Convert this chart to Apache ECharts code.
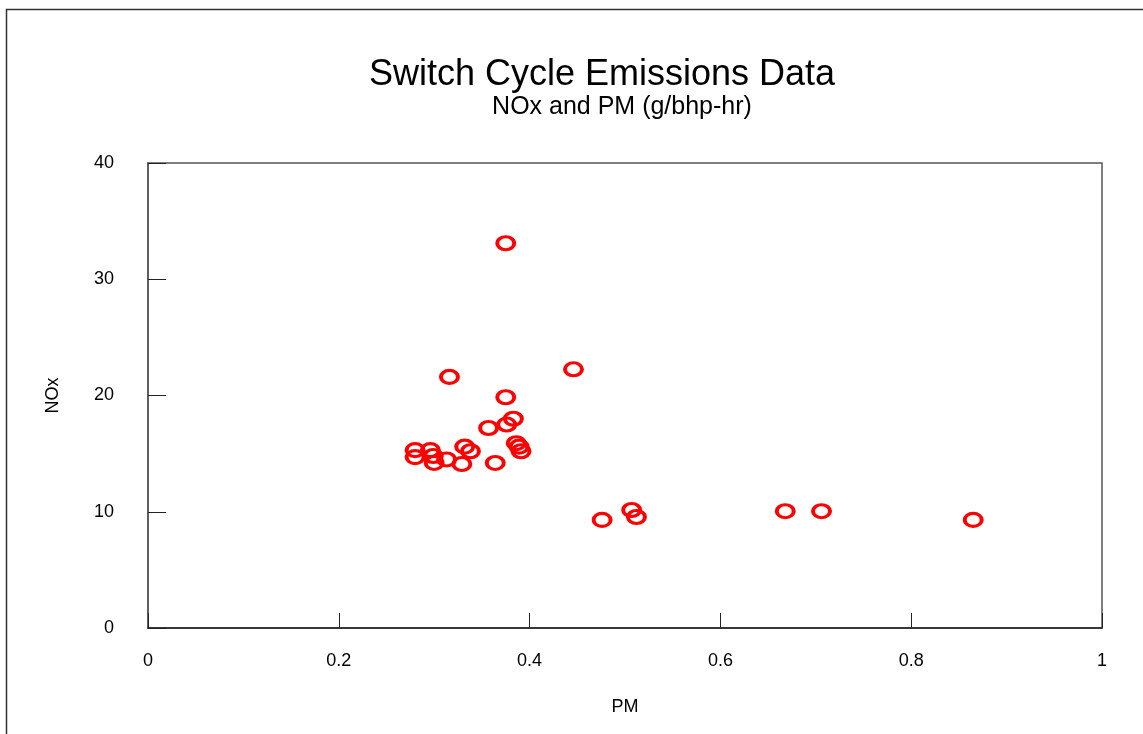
<!DOCTYPE html>
<html>
<head>
<meta charset="utf-8">
<script src="https://cdn.jsdelivr.net/npm/echarts@6/dist/echarts.min.js"></script>
<style>
    html,body {margin:0;padding:0;background:#fff;}
    #chart {width:1143px;height:734px;}
</style>
</head>
<body>
<div id="chart"></div>
<script>
    // PM (g/bhp-hr) vs NOx (g/bhp-hr)
    var pm  = [0.375, 0.446, 0.316, 0.375, 0.383, 0.376, 0.357, 0.386, 0.389, 0.391,
               0.332, 0.338, 0.280, 0.280, 0.296, 0.299, 0.300, 0.313, 0.329, 0.364,
               0.476, 0.507, 0.512, 0.668, 0.706, 0.865];
    var nox = [33.1, 22.25, 21.6, 19.85, 18.0, 17.5, 17.2, 15.9, 15.6, 15.2,
               15.6, 15.2, 15.3, 14.7, 15.3, 14.8, 14.2, 14.5, 14.1, 14.2,
               9.3, 10.15, 9.55, 10.05, 10.05, 9.3];
    var xTicks = [0, 0.2, 0.4, 0.6, 0.8, 1];
    var yTicks = [0, 10, 20, 30, 40];

    var points = [];
    for (var i = 0; i < pm.length; i++) {
        points.push([pm[i], nox[i]]);
    }

    var chart = echarts.init(document.getElementById('chart'));
    var font = 'Liberation Sans, Arial, sans-serif';
    chart.setOption({
        animation: false,
        backgroundColor: '#fff',
        title: [{
            text: 'Switch Cycle Emissions Data',
            left: 597, top: 52, textAlign: 'center',
            textStyle: {fontFamily: font, fontSize: 36, fontWeight: 'normal', color: '#000'}
        }, {
            text: 'NOx and PM (g/bhp-hr)',
            left: 617, top: 90, textAlign: 'center',
            textStyle: {fontFamily: font, fontSize: 25, fontWeight: 'normal', color: '#000'}
        }],
        graphic: [{
            type: 'rect', left: 4, top: 7,
            shape: {width: 1150, height: 740},
            style: {fill: null, stroke: '#333', lineWidth: 1.5}, z: -1
        }],
        grid: {
            left: 148, right: 41, top: 163, bottom: 106,
            show: true, borderColor: '#555', borderWidth: 1.5, backgroundColor: 'transparent'
        },
        xAxis: {
            type: 'value', min: xTicks[0], max: xTicks[xTicks.length - 1], interval: 0.2,
            name: 'PM', nameLocation: 'middle', nameGap: 70,
            nameTextStyle: {fontFamily: font, fontSize: 18, color: '#000'},
            axisLine: {show: true, lineStyle: {color: '#222', width: 1.5}},
            axisTick: {show: true, inside: true, length: 15, lineStyle: {color: '#222'}},
            axisLabel: {fontFamily: font, fontSize: 18, color: '#000', margin: 24},
            splitLine: {show: false}
        },
        yAxis: {
            type: 'value', min: yTicks[0], max: yTicks[yTicks.length - 1], interval: 10,
            name: 'NOx', nameLocation: 'middle', nameGap: 86, nameRotate: 90,
            nameTextStyle: {fontFamily: font, fontSize: 18, color: '#000'},
            axisLine: {show: true, lineStyle: {color: '#555', width: 1.5}},
            axisTick: {show: true, inside: true, length: 18, lineStyle: {color: '#222'}},
            axisLabel: {fontFamily: font, fontSize: 18, color: '#000', margin: 34},
            splitLine: {show: false}
        },
        series: [{
            type: 'scatter',
            data: points,
            symbol: 'circle',
            symbolSize: [17, 13],
            itemStyle: {color: 'rgba(255,255,255,0)', borderColor: '#ff0000', borderWidth: 3.5, opacity: 1}
        }]
    });
</script>
</body>
</html>
